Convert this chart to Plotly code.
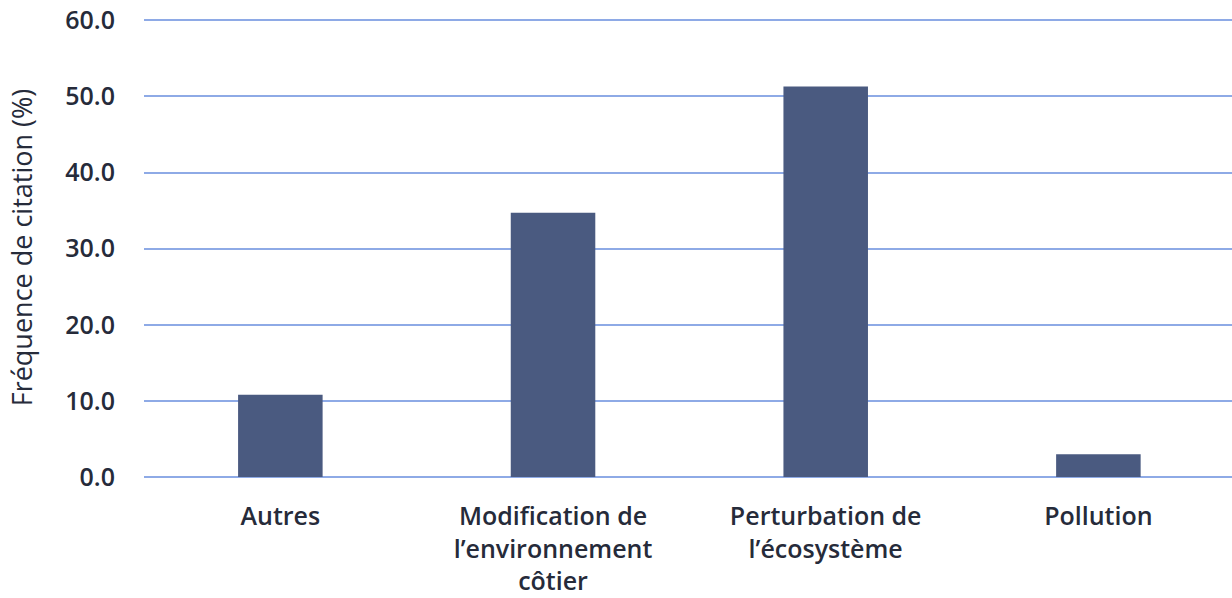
import plotly.graph_objects as go

categories = ["Autres", "Modification de l'environnement côtier", "Perturbation de l'écosystème", "Pollution"]
tick_labels = ["Autres", "Modification de<br>l’environnement<br>côtier", "Perturbation de<br>l’écosystème", "Pollution"]
values = [10.8, 34.7, 51.3, 3.0]
y_ticks = [0, 10, 20, 30, 40, 50, 60]
y_tick_text = ["0.0", "10.0", "20.0", "30.0", "40.0", "50.0", "60.0"]

text_color = "#262b3a"
grid_color = "#8eaae6"
font_family = "Open Sans"

fig = go.Figure(
    go.Bar(
        x=categories,
        y=values,
        marker=dict(color="#4a5a80", line=dict(width=0)),
        width=0.31,
    )
)

fig.update_layout(
    width=1232,
    height=598,
    margin=dict(l=144, r=0, t=18, b=121),
    paper_bgcolor="white",
    plot_bgcolor="white",
    showlegend=False,
    font=dict(family=font_family, size=25, color=text_color),
)

fig.update_xaxes(
    tickmode="array",
    tickvals=categories,
    ticktext=tick_labels,
    range=[-0.5, 3.49],
    showgrid=False,
    showline=False,
    ticks="",
    tickfont=dict(family=font_family, size=25, color=text_color, weight=600),
    ticklabelstandoff=22,
)

fig.update_yaxes(
    range=[0, 60.3],
    tickmode="array",
    tickvals=y_ticks,
    ticktext=y_tick_text,
    showgrid=True,
    gridcolor=grid_color,
    gridwidth=2,
    zeroline=True,
    zerolinecolor=grid_color,
    zerolinewidth=2,
    showline=False,
    ticks="",
    ticklabelstandoff=28,
    tickfont=dict(family=font_family, size=25, color=text_color, weight=600),
    title=dict(text="Fréquence de citation (%)", font=dict(family=font_family, size=27, color=text_color), standoff=24),
)

fig.write_html("out.html")
